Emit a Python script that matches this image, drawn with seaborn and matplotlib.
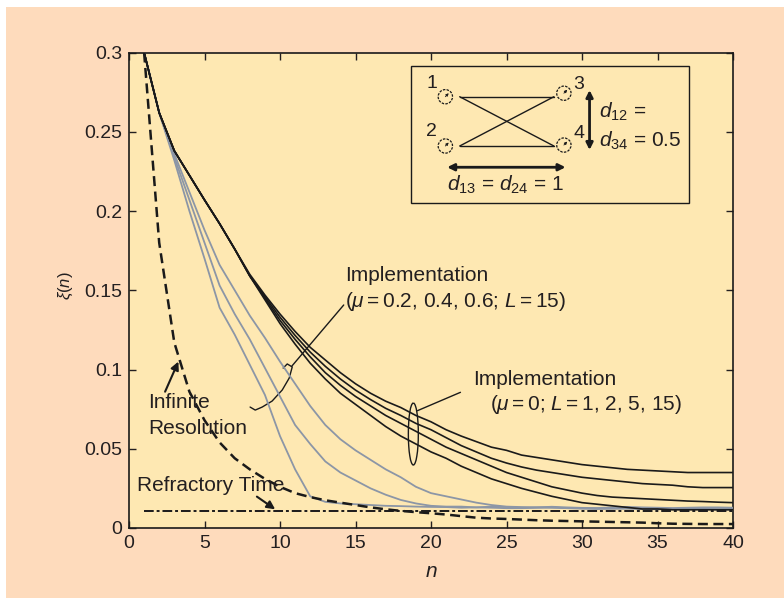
import numpy as np
import pandas as pd
import matplotlib
matplotlib.use("Agg")
import matplotlib.pyplot as plt
import seaborn as sns
from matplotlib.patches import Ellipse, Rectangle, Arc

# ---------------- data ----------------
n_steps = list(range(1, 41))

black_L1 = [0.300, 0.262, 0.238, 0.2225, 0.207, 0.192, 0.176, 0.160, 0.147, 0.135,
            0.124, 0.114, 0.106, 0.098, 0.091, 0.085, 0.080, 0.076, 0.071, 0.067,
            0.062, 0.058, 0.0545, 0.051, 0.049, 0.046, 0.0445, 0.043, 0.0415, 0.040,
            0.039, 0.038, 0.037, 0.0365, 0.036, 0.0355, 0.035, 0.035, 0.035, 0.035]
black_L2 = [0.300, 0.262, 0.238, 0.2225, 0.207, 0.192, 0.176, 0.159, 0.146, 0.133,
            0.1215, 0.111, 0.102, 0.094, 0.087, 0.081, 0.0755, 0.071, 0.066, 0.062,
            0.057, 0.052, 0.048, 0.044, 0.041, 0.0385, 0.0365, 0.035, 0.0335, 0.032,
            0.031, 0.030, 0.029, 0.028, 0.0275, 0.027, 0.026, 0.0255, 0.0255, 0.0255]
black_L5 = [0.300, 0.262, 0.238, 0.2225, 0.207, 0.192, 0.176, 0.159, 0.145, 0.131,
            0.119, 0.108, 0.098, 0.090, 0.083, 0.077, 0.071, 0.066, 0.061, 0.056,
            0.051, 0.047, 0.043, 0.039, 0.035, 0.032, 0.029, 0.026, 0.024, 0.022,
            0.0205, 0.0195, 0.019, 0.0185, 0.018, 0.0175, 0.017, 0.0167, 0.0163, 0.016]
black_L15 = [0.300, 0.262, 0.238, 0.2225, 0.207, 0.192, 0.176, 0.159, 0.144, 0.129,
             0.116, 0.104, 0.094, 0.085, 0.078, 0.071, 0.064, 0.058, 0.053, 0.048,
             0.044, 0.039, 0.035, 0.031, 0.028, 0.025, 0.0225, 0.020, 0.018, 0.016,
             0.015, 0.014, 0.013, 0.012, 0.012, 0.0115, 0.0115, 0.0115, 0.0115, 0.0115]

gray_mu06 = [0.300, 0.262, 0.232, 0.200, 0.170, 0.139, 0.122, 0.103, 0.084, 0.058,
             0.037, 0.020, 0.0165, 0.0155, 0.015, 0.0145, 0.014, 0.0138, 0.0135, 0.0133,
             0.0132, 0.0128, 0.013, 0.0135, 0.0132, 0.0128, 0.013, 0.0134, 0.013, 0.0127,
             0.0126, 0.013, 0.0133, 0.013, 0.0128, 0.0126, 0.0128, 0.013, 0.013, 0.0128]
gray_mu04 = [0.300, 0.262, 0.234, 0.207, 0.180, 0.153, 0.135, 0.119, 0.101, 0.083,
             0.065, 0.053, 0.042, 0.035, 0.030, 0.025, 0.021, 0.0177, 0.0155, 0.014,
             0.0135, 0.0135, 0.013, 0.0128, 0.0125, 0.0125, 0.0128, 0.013, 0.0125, 0.0122,
             0.012, 0.0122, 0.0125, 0.012, 0.0118, 0.012, 0.0122, 0.012, 0.0118, 0.012]
gray_mu02 = [0.300, 0.262, 0.236, 0.212, 0.188, 0.166, 0.150, 0.134, 0.120, 0.105,
             0.091, 0.077, 0.065, 0.056, 0.049, 0.043, 0.037, 0.032, 0.026, 0.022,
             0.020, 0.018, 0.016, 0.0145, 0.0135, 0.0132, 0.013, 0.0128, 0.0126, 0.0125,
             0.0124, 0.0123, 0.0122, 0.0122, 0.012, 0.0118, 0.0118, 0.012, 0.0118, 0.0117]

infinite_res = [0.300, 0.180, 0.117, 0.086, 0.068, 0.054, 0.044, 0.037, 0.031, 0.026,
                0.022, 0.0195, 0.0175, 0.016, 0.0145, 0.013, 0.0118, 0.0108, 0.0100, 0.0093,
                0.0085, 0.0075, 0.0065, 0.0060, 0.0057, 0.0053, 0.0049, 0.0046, 0.0044, 0.0042,
                0.0040, 0.0038, 0.0036, 0.0034, 0.0030, 0.0027, 0.0026, 0.0025, 0.0025, 0.0025]

refractory_n = [1, 40]
refractory_v = [0.0105, 0.0105]

x_ticks = [0, 5, 10, 15, 20, 25, 30, 35, 40]
y_ticks = [0, 0.05, 0.1, 0.15, 0.2, 0.25, 0.3]
y_tick_labels = ["0", "0.05", "0.1", "0.15", "0.2", "0.25", "0.3"]

# ---------------- style ----------------
sns.set_theme(style="ticks")
plt.rcParams["font.family"] = ["Liberation Sans", "DejaVu Sans"]
plt.rcParams["mathtext.fontset"] = "custom"
plt.rcParams["mathtext.rm"] = "Liberation Sans"
plt.rcParams["mathtext.it"] = "Liberation Sans:italic"
plt.rcParams["mathtext.bf"] = "Liberation Sans:bold"

PEACH = "#FEDBBC"
AXBG = "#FEE8B2"
TXT = "#231f20"
GRAY = "#8C96A6"
INK = "#1a1a1a"

fig = plt.figure(figsize=(7.84, 5.98), dpi=100, facecolor="white")
fig.patches.append(Rectangle((6 / 784, 0), 1, 1 - 7 / 598, transform=fig.transFigure,
                             facecolor=PEACH, edgecolor="none", zorder=-10))
ax = fig.add_axes([129 / 784, 1 - 528 / 598, 604 / 784, 475.5 / 598])
ax.set_facecolor(AXBG)

for col in [gray_mu02, gray_mu04, gray_mu06]:
    sns.lineplot(x=n_steps, y=col, ax=ax, color=GRAY, lw=1.3, zorder=3)
for col in [black_L1, black_L2, black_L5, black_L15]:
    sns.lineplot(x=n_steps, y=col, ax=ax, color=INK, lw=1.2, zorder=4)
sns.lineplot(x=n_steps, y=infinite_res, ax=ax, color=INK, lw=1.8,
             zorder=5).lines[-1].set_dashes([4, 2.2])
sns.lineplot(x=refractory_n, y=refractory_v, ax=ax, color=INK, lw=1.4,
             zorder=5).lines[-1].set_dashes([5, 1.5, 1.5, 1.5])

ax.set_xlim(0, 40)
ax.set_ylim(0, 0.3)
ax.set_xticks(x_ticks)
ax.set_yticks(y_ticks)
ax.set_yticklabels(y_tick_labels)
ax.tick_params(direction="in", top=True, right=True, length=5, width=1,
               labelsize=14, colors=TXT, pad=5)
for sp in ax.spines.values():
    sp.set_linewidth(1.2)
    sp.set_color(INK)
ax.set_xlabel("$n$", fontsize=15, color=TXT)
ax.xaxis.set_label_coords(0.5, -0.072)
ax.set_ylabel(r"$\xi(n)$", fontsize=12, color=TXT)
ax.yaxis.set_label_coords(-0.089, 0.51)

fs = 15
# ---- text annotations ----
ax.text(14.3, 0.1596, "Implementation", fontsize=fs, color=TXT, va="center", ha="left")
ax.text(14.3, 0.1426, r"($\mu = 0.2$, 0.4, 0.6; $L = 15$)", fontsize=fs, color=TXT,
        va="center", ha="left")
ax.text(22.8, 0.0934, "Implementation", fontsize=fs, color=TXT, va="center", ha="left")
ax.text(23.9, 0.0782, r"($\mu = 0$; $L = 1$, 2, 5, 15)", fontsize=fs, color=TXT,
        va="center", ha="left")
ax.text(1.28, 0.0793, "Infinite", fontsize=fs, color=TXT, va="center", ha="left", zorder=6)
ax.text(1.28, 0.0629, "Resolution", fontsize=fs, color=TXT, va="center", ha="left", zorder=6)
ax.text(0.51, 0.0265, "Refractory Time", fontsize=fs, color=TXT, va="center", ha="left", zorder=6)

ap = dict(arrowstyle="-|>", color=INK, lw=1.5, mutation_scale=12,
          shrinkA=0, shrinkB=0)
ax.annotate("", xy=(3.27, 0.105), xytext=(2.39, 0.086), arrowprops=ap)
ax.annotate("", xy=(9.68, 0.0118), xytext=(8.47, 0.0198), arrowprops=ap)

# leader + bracket for first Implementation
ax.plot([14.22, 10.79], [0.1407, 0.1022], color=INK, lw=1.0)
br_n = [10.21, 10.48, 10.81, 10.61, 10.15, 9.48, 8.82, 8.36, 8.02]
br_v = [0.1009, 0.1035, 0.1016, 0.0946, 0.0871, 0.0801, 0.0763, 0.0744, 0.0763]
ax.plot(br_n, br_v, color=INK, lw=1.0)

# leader + loop for second Implementation
ax.plot([21.95, 19.1], [0.0856, 0.0740], color=INK, lw=1.0)
ax.add_patch(Arc((18.83, 0.0593), 0.66, 0.0391, theta1=100, theta2=75,
                 color=INK, lw=1.0))

# ---- inset schematic ----
ax.add_patch(Rectangle((18.7, 0.2049), 18.4, 0.0868, facecolor="none",
                       edgecolor=INK, lw=1.0, zorder=6))
nodes = {"1": (20.95, 0.2721), "2": (20.95, 0.2410), "3": (28.8, 0.2743), "4": (28.8, 0.2416)}
for k, (cx, cy) in nodes.items():
    ax.add_patch(Ellipse((cx, cy), 0.95, 0.009, facecolor="none", edgecolor=INK,
                         lw=0.9, ls=(0, (2, 1)), zorder=6))
    ax.annotate("", xy=(cx + 0.22, cy + 0.0022), xytext=(cx, cy),
                arrowprops=dict(arrowstyle="-|>", color=INK, lw=0.6,
                                mutation_scale=4, shrinkA=0, shrinkB=0), zorder=6)
ax.text(20.03, 0.2806, "1", fontsize=14, color=TXT, ha="center", va="center")
ax.text(20.03, 0.2500, "2", fontsize=14, color=TXT, ha="center", va="center")
ax.text(29.8, 0.2795, "3", fontsize=14, color=TXT, ha="center", va="center")
ax.text(29.8, 0.2490, "4", fontsize=14, color=TXT, ha="center", va="center")
lk = dict(color=INK, lw=1.0, zorder=6)
ax.plot([21.9, 28.14], [0.2721, 0.2721], **lk)
ax.plot([21.9, 28.14], [0.2410, 0.2410], **lk)
ax.plot([21.9, 28.14], [0.2721, 0.2410], **lk)
ax.plot([21.9, 28.14], [0.2410, 0.2721], **lk)
dap = dict(arrowstyle="<|-|>", color=INK, lw=2.0, mutation_scale=10,
           shrinkA=0, shrinkB=0)
ax.annotate("", xy=(30.5, 0.2763), xytext=(30.5, 0.2385), arrowprops=dap)
ax.annotate("", xy=(21.07, 0.2276), xytext=(28.91, 0.2276), arrowprops=dap)
ax.text(31.1, 0.2627, r"$d_{12}$ =", fontsize=fs, color=TXT, ha="left", va="center")
ax.text(31.1, 0.2444, r"$d_{34}$ = 0.5", fontsize=fs, color=TXT, ha="left", va="center")
ax.text(24.93, 0.2164, r"$d_{13}$ = $d_{24}$ = 1", fontsize=fs, color=TXT,
        ha="center", va="center")

fig.savefig("out.png", dpi=100, facecolor=fig.get_facecolor())
